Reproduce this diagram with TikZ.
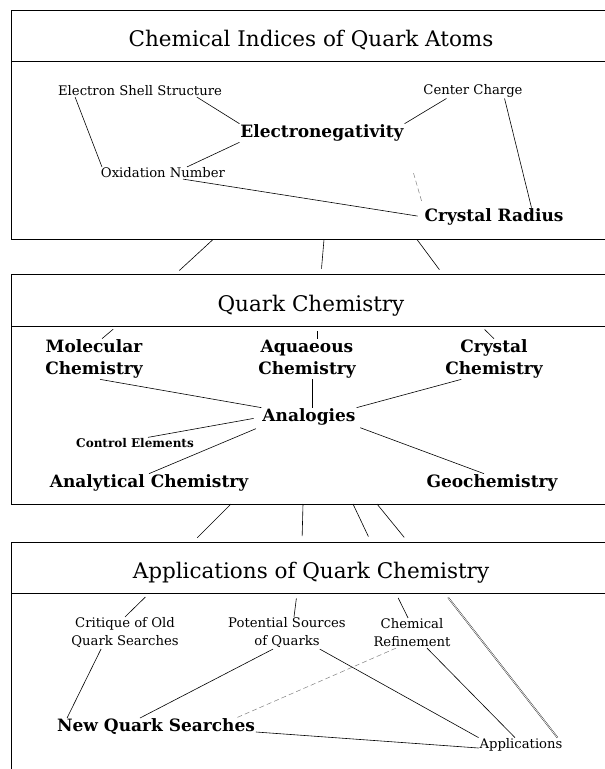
\documentclass[tikz,border=0pt]{standalone}
\usepackage{fontspec}
\setmainfont{DejaVu Serif}
\usetikzlibrary{positioning}

\begin{document}
\begin{tikzpicture}[
    x=1pt, y=-1pt,
    every node/.style={align=center, inner sep=1pt, outer sep=0pt},
    band/.style={draw, line width=1pt, minimum width=600pt, minimum height=51.5pt, inner sep=0pt, text height=22pt, text depth=0pt, font=\fontsize{21.5}{24}\selectfont},
    body/.style={draw, line width=1pt, minimum width=600pt, minimum height=178pt},
    big/.style={font=\fontsize{17}{22}\selectfont\bfseries},
    small/.style={font=\fontsize{13.2}{18}\selectfont},
    tiny/.style={font=\fontsize{12}{14}\selectfont\bfseries},
    link/.style={line width=0.6pt},
    gap/.style={link, shorten >=6pt},
    tick/.style={link, shorten <=5pt},
    twin/.style={line width=0.35pt, double, double distance=0.7pt, shorten <=5pt},
    faint/.style={line width=0.5pt, gray, dash pattern=on 5pt off 3pt},
]
\useasboundingbox (0,0) rectangle (605,769);
\clip (0,0) rectangle (605,769);

% --- Boxes ---
\node[band, anchor=north west] (t1) at (11,10) {Chemical Indices of Quark Atoms};
\node[body, below=0pt of t1] (b1) {};
\node[band, below=35pt of b1] (t2) {Quark Chemistry};
\node[body, below=0pt of t2] (b2) {};
\node[band, below=38pt of b2] (t3) {Applications of Quark Chemistry};
\node[body, below=0pt of t3, minimum height=220pt] (b3) {};

% --- Box 1: Chemical Indices ---
\node[small] (ess) at (140,91) {Electron Shell Structure};
\node[small] (cc) at (473,91) {Center Charge};
\node[big] (en) at (322,133) {Electronegativity};
\node[small] (ox) at (163,173) {Oxidation Number};
\node[big] (cr) at (494,217) {Crystal Radius};

% --- Box 2: Quark Chemistry ---
\node[big] (mol) at (94,359) {Molecular\\Chemistry};
\node[big] (aq) at (307,359) {Aquaeous\\Chemistry};
\node[big] (cry) at (494,359) {Crystal\\Chemistry};
\node[big] (ana) at (309,417) {Analogies};
\node[tiny] (ctrl) at (135,443) {Control Elements};
\node[big] (anal) at (149,483) {Analytical Chemistry};
\node[big] (geo) at (492,483) {Geochemistry};

% --- Box 3: Applications ---
\node[small] (crit) at (125,633) {Critique of Old\\Quark Searches};
\node[small] (pot) at (287,633) {Potential Sources\\of Quarks};
\node[small] (chem) at (412,633) {Chemical\\Refinement};
\node[big] (nqs) at (156,727) {New Quark Searches};
\node[small] (app) at (521,745) {Applications};

% --- Edges: Box 1 ---
\draw[link] ([xshift=18pt]ess.south west) -- ([xshift=2pt]ox.north west);
\draw[link] ([xshift=-26pt]ess.south east) -- (en.north west);
\draw[link] (en.south west) -- ([xshift=-39pt]ox.north east);
\draw[link] ([xshift=24pt]cc.south west) -- (en.north east);
\draw[link] ([xshift=-19pt]cc.south east) -- ([xshift=-33pt]cr.north east);
\draw[link, shorten >=6pt] ([xshift=20pt]ox.south) -- (cr.west);
\draw[faint, shorten <=32pt, shorten >=6pt] (en.south east) -- (cr.north west);

% --- Edges: between boxes ---
\draw[gap] ([xshift=202pt]b1.south west) -- ([xshift=164pt]t2.north west);
\draw[gap] ([xshift=313pt]b1.south west) -- ([xshift=310pt]t2.north west);
\draw[gap] ([xshift=406pt]b1.south west) -- ([xshift=432pt]t2.north west);
\draw[gap] ([xshift=220pt]b2.south west) -- ([xshift=182pt]t3.north west);
\draw[gap] ([xshift=292pt]b2.south west) -- ([xshift=291pt]t3.north west);
\draw[gap] ([xshift=342pt]b2.south west) -- ([xshift=360pt]t3.north west);
\draw[gap] ([xshift=366pt]b2.south west) -- ([xshift=397pt]t3.north west);

% --- Edges: Box 2 ---
\draw[tick] ([xshift=106pt]t2.south west) -- ([xshift=8pt]mol.north);
\draw[tick] ([xshift=306pt]t2.south west) -- ([xshift=10pt]aq.north);
\draw[tick] ([xshift=470pt]t2.south west) -- (cry.north);
\draw[link] ([xshift=6pt]mol.south) -- (ana.north west);
\draw[link] ([xshift=5pt]aq.south) -- ([xshift=3pt]ana.north);
\draw[link] ([xshift=17pt]cry.south west) -- (ana.north east);
\draw[link, shorten <=8pt] (ana.west) -- ([xshift=13pt]ctrl.north);
\draw[link, shorten <=6pt] (ana.south west) -- (anal.north);
\draw[link, shorten <=4pt] (ana.south east) -- ([xshift=-8pt]geo.north);

% --- Edges: Box 3 ---
\draw[tick] ([xshift=138pt]t3.south west) -- (crit.north);
\draw[tick] ([xshift=286pt]t3.south west) -- ([xshift=7pt]pot.north);
\draw[tick] ([xshift=385pt]t3.south west) -- ([xshift=-4pt]chem.north);
\draw[twin] ([xshift=434pt]t3.south west) -- ([xshift=-6pt]app.north east);
\draw[link] ([xshift=-24pt]crit.south) -- ([xshift=11pt]nqs.north west);
\draw[link] ([xshift=-14pt]pot.south) -- ([xshift=-16pt]nqs.north);
\draw[faint] ([xshift=-16pt]chem.south) -- ([xshift=-20pt]nqs.north east);
\draw[link] ([xshift=-27pt]pot.south east) -- (app.north west);
\draw[link] ([xshift=15pt]chem.south) -- ([xshift=-6pt]app.north);
\draw[link] ([yshift=-5pt]nqs.east) -- ([yshift=-3pt]app.west);

\end{tikzpicture}
\end{document}
